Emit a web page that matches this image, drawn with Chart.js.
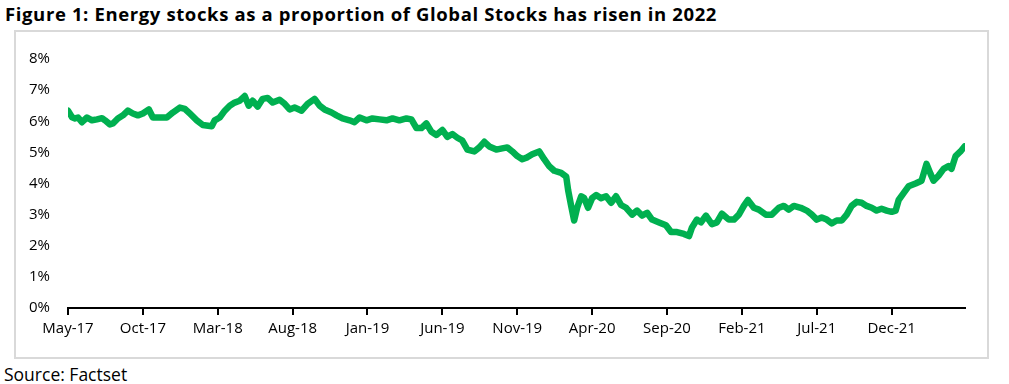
<!DOCTYPE html>
<html lang="en">

<head>
    <meta charset="UTF-8" />
    <title>Energy stocks as a proportion of Global Stocks</title>
    <script src="https://cdn.jsdelivr.net/npm/chart.js"></script>
    <style>
        body { margin: 0; background: #fff; font-family: "Open Sans", Lato, sans-serif; }
        #title { position: absolute; left: 5px; top: 1px; font-size: 18.5px; letter-spacing: 0.62px; font-weight: bold; color: #000; white-space: nowrap; }
        #box { position: absolute; left: 14px; top: 30px; width: 971px; height: 325px; border: 2px solid #d9d9d9; }
        #source { position: absolute; left: 4px; top: 362px; font-size: 17.5px; color: #000; white-space: nowrap; }
    </style>
</head>

<body>
    <div id="title">Figure 1: Energy stocks as a proportion of Global Stocks has risen in 2022</div>
    <div id="box"><canvas id="energyChart" width="971" height="325"></canvas></div>
    <div id="source">Source: Factset</div>

    <script>
        // x = months since May-17, y = energy share of global stocks (%)
        const monthsSinceStart = [
            0, 0.27, 0.47, 0.67, 0.93, 1.27, 1.6, 1.93, 2.27, 2.47, 2.8, 3.0, 3.33, 3.67, 4.0, 4.33, 4.67, 5.0,
            5.4, 5.67, 6.13, 6.6, 7.0, 7.47, 7.8, 8.13, 8.6, 9.0, 9.6, 9.8, 10.13, 10.47, 10.8, 11.13, 11.47, 11.8,
            12.07, 12.33, 12.67, 13.0, 13.33, 13.67, 14.13, 14.47, 14.8, 15.13, 15.6, 16.0, 16.47, 16.8, 17.13, 17.6,
            17.93, 18.33, 18.8, 19.13, 19.47, 19.93, 20.33, 20.8, 21.27, 21.67, 22.13, 22.6, 22.93, 23.27, 23.6, 23.93,
            24.27, 24.6, 25.0, 25.33, 25.67, 26.0, 26.33, 26.67, 27.13, 27.47, 27.8, 28.13, 28.6, 29.0, 29.33, 29.67,
            30.0, 30.33, 30.67, 31.0, 31.47, 31.8, 32.13, 32.47, 32.93, 33.27, 33.4, 33.6, 33.8, 34.0, 34.27, 34.47,
            34.73, 35.0, 35.27, 35.6, 35.93, 36.27, 36.6, 36.93, 37.27, 37.67, 38.0, 38.33, 38.67, 39.0, 39.47, 39.93,
            40.27, 40.67, 41.13, 41.47, 41.67, 42.0, 42.27, 42.6, 43.0, 43.33, 43.67, 44.13, 44.47, 44.8, 45.13, 45.4,
            45.8, 46.13, 46.6, 47.0, 47.47, 47.8, 48.13, 48.47, 48.93, 49.33, 49.67, 50.0, 50.33, 50.67, 51.0, 51.33,
            51.67, 52.0, 52.33, 52.67, 53.0, 53.33, 53.67, 54.0, 54.33, 54.67, 55.0, 55.27, 55.47, 55.8, 56.13, 56.6,
            57.0, 57.33, 57.6, 57.8, 58.13, 58.47, 58.8, 59.0, 59.27, 59.6, 59.87
        ];
        const energyShare = [
            6.34, 6.13, 6.09, 6.12, 5.97, 6.12, 6.03, 6.06, 6.1, 6.03, 5.9, 5.93, 6.09, 6.19, 6.34, 6.25, 6.19, 6.25,
            6.38, 6.12, 6.12, 6.12, 6.28, 6.44, 6.4, 6.25, 6.03, 5.88, 5.84, 6.03, 6.12, 6.34, 6.5, 6.6, 6.66, 6.81,
            6.5, 6.66, 6.47, 6.72, 6.75, 6.6, 6.69, 6.56, 6.38, 6.44, 6.34, 6.56, 6.72, 6.5, 6.38, 6.28,
            6.19, 6.09, 6.03, 5.97, 6.12, 6.03, 6.09, 6.06, 6.03, 6.09, 6.03, 6.09, 6.06, 5.78, 5.78, 5.93,
            5.66, 5.56, 5.72, 5.5, 5.59, 5.47, 5.38, 5.09, 5.03, 5.16, 5.34, 5.19, 5.09, 5.13, 5.16, 5.03,
            4.88, 4.78, 4.84, 4.94, 5.03, 4.78, 4.56, 4.41, 4.34, 4.22, 3.78, 3.28, 2.81, 3.22, 3.59, 3.53,
            3.22, 3.53, 3.63, 3.53, 3.59, 3.38, 3.59, 3.31, 3.22, 3.0, 3.13, 2.97, 3.06, 2.84, 2.75, 2.66,
            2.44, 2.44, 2.38, 2.31, 2.59, 2.84, 2.75, 2.97, 2.69, 2.75, 3.03, 2.84, 2.84, 3.0, 3.28, 3.47,
            3.22, 3.16, 3.0, 3.0, 3.22, 3.28, 3.16, 3.28, 3.22, 3.13, 3.0, 2.84, 2.91, 2.84, 2.72, 2.81,
            2.81, 3.0, 3.28, 3.41, 3.38, 3.28, 3.22, 3.13, 3.19, 3.13, 3.09, 3.13, 3.47, 3.69, 3.91, 4.0,
            4.09, 4.63, 4.31, 4.09, 4.25, 4.47, 4.56, 4.47, 4.88, 5.03, 5.19
        ];
        const xTickLabels = ['May-17', 'Oct-17', 'Mar-18', 'Aug-18', 'Jan-19', 'Jun-19', 'Nov-19', 'Apr-20', 'Sep-20', 'Feb-21', 'Jul-21', 'Dec-21'];
        const yTickValues = [0, 1, 2, 3, 4, 5, 6, 7, 8];

        const points = monthsSinceStart.map((m, i) => ({ x: m, y: energyShare[i] }));
        const tickFont = { family: '"Open Sans", Lato, sans-serif', size: 15 };

        const ctx = document.getElementById('energyChart').getContext('2d');
        const chart = new Chart(ctx, {
            type: 'line',
            data: {
                datasets: [
                    {
                        label: 'Energy share of global stocks',
                        data: points,
                        borderColor: '#00b050',
                        borderWidth: 6.5,
                        borderJoinStyle: 'round',
                        borderCapStyle: 'round',
                        pointRadius: 0,
                        fill: false,
                        tension: 0,
                    },
                ],
            },
            options: {
                responsive: false,
                animation: false,
                layout: { padding: { top: 20, right: 22, left: 0, bottom: 0 } },
                plugins: { legend: { display: false }, tooltip: { enabled: false } },
                scales: {
                    x: {
                        type: 'linear',
                        min: 0,
                        max: 59.9,
                        afterFit: (s) => { s.height = 49; },
                        afterBuildTicks: (s) => { s.ticks = xTickLabels.map((_, i) => ({ value: i * 5 })); },
                        ticks: {
                            callback: (v) => xTickLabels[Math.round(v / 5)],
                            color: '#000',
                            font: tickFont,
                            padding: 5,
                            maxRotation: 0,
                            autoSkip: false,
                        },
                        grid: { display: true, drawOnChartArea: false, drawTicks: true, tickLength: 7, color: '#000', lineWidth: 2 },
                        border: { display: true, color: '#000', width: 2 },
                    },
                    y: {
                        min: 0,
                        max: 8,
                        afterFit: (s) => { s.width = 52; },
                        afterBuildTicks: (s) => { s.ticks = yTickValues.map((v) => ({ value: v })); },
                        ticks: {
                            callback: (v) => v + '%',
                            color: '#000',
                            font: tickFont,
                            padding: 18,
                        },
                        grid: { display: false, drawTicks: false },
                        border: { display: false },
                    },
                },
            },
        });
    </script>
</body>

</html>
